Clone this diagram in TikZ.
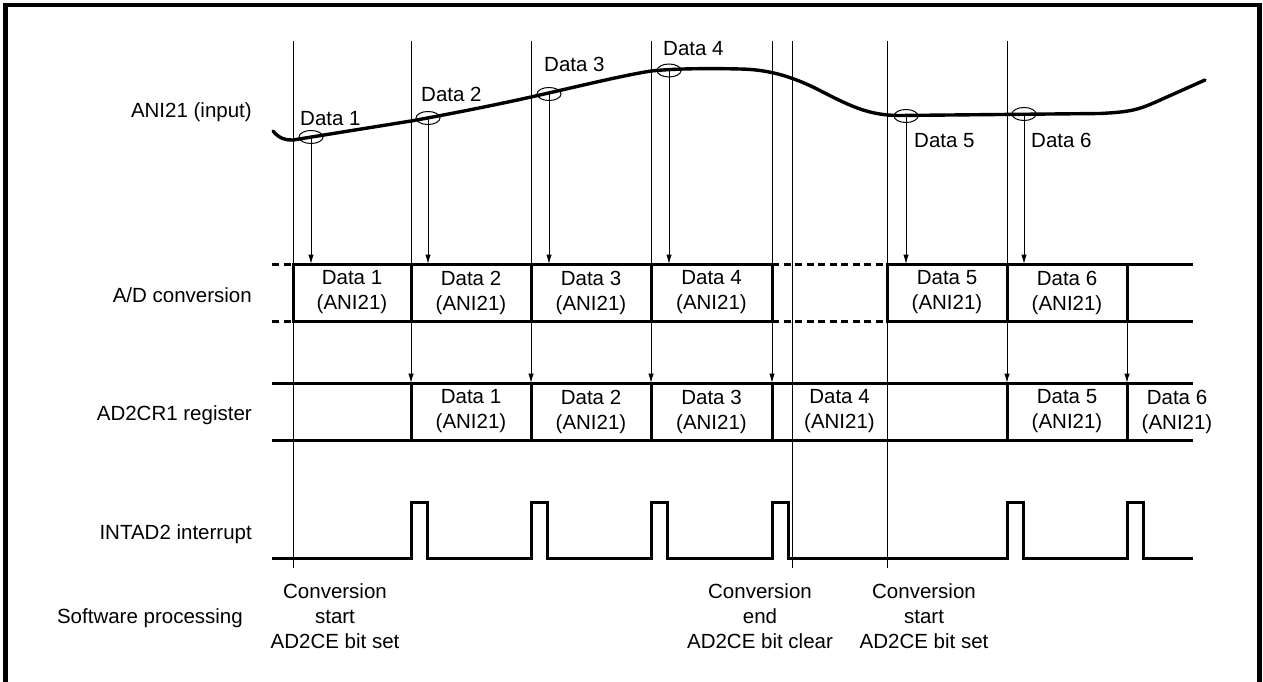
\documentclass[tikz,border=0pt]{standalone}
\usepackage{fontspec}
\setmainfont{Liberation Sans}
\usetikzlibrary{arrows.meta,shapes.geometric}
\begin{document}
\begin{tikzpicture}[x=1pt,y=-1pt,
  lbl/.style={font=\fontsize{20.5}{25}\selectfont, inner sep=0pt},
  cell/.style={lbl, align=center},
  thinline/.style={line width=1pt},
  thickline/.style={line width=3pt},
  arr/.style={line width=1pt,-{Latex[length=9.5pt,width=5.5pt]}},
  samp/.style={draw, ellipse, line width=1pt, minimum width=24pt, minimum height=13pt, inner sep=0pt},
  dsh/.style={line width=3pt, dash pattern=on 7pt off 4.5pt},
]
\useasboundingbox (0,0) rectangle (1263,682);
% frame (open at the bottom)
\draw[line width=4.5pt] (5.25,700) -- (5.25,5.25) -- (1259.5,5.25) -- (1259.5,700);

% input curve
\draw[line width=3.4pt, line cap=round, line join=round]
  (273,131) .. controls (279,138.5) and (286,140.5) .. (293,140)
  .. controls (330,134) and (380,126) .. (411,121)
  .. controls (450,114) and (500,104) .. (531,97)
  .. controls (580,86) and (620,76) .. (651,71)
  .. controls (680,68) and (720,68.5) .. (740,69)
  .. controls (768,69.5) and (790,76) .. (815,88)
  .. controls (850,106) and (868,115.5) .. (900,115.5)
  -- (1100,113.5)
  .. controls (1130,112) and (1138,110) .. (1158,101)
  -- (1205,80);

% sampling ellipses
\node[samp] (e1) at (311,137) {};
\node[samp] (e2) at (428,118) {};
\node[samp] (e3) at (549,94) {};
\node[samp] (e4) at (669,70.5) {};
\node[samp] (e5) at (906,116) {};
\node[samp] (e6) at (1024,114) {};

% row reference coordinates
\coordinate (adtop) at (0,264);
\coordinate (adbot) at (0,321);
\coordinate (rgtop) at (0,383);
\coordinate (rgbot) at (0,440);

% thin vertical time lines
\foreach \x/\n in {293/t1,411/t2,531/t3,651/t4,772/t5,792/t6,887/t7,1007/t8}{
  \coordinate (\n) at (\x,41);
}
\draw[thinline] (t1) -- (293,568);
\draw[thinline] (t6) -- (792,568);
\draw[thinline] (t7) -- (887,568);
\foreach \n in {t2,t3,t4,t5,t8}{
  \draw[arr] (\n) -- (\n |- rgtop);
}
\coordinate (t9) at (1127,321);
\draw[arr] (t9) -- (t9 |- rgtop);

% sample arrows
\foreach \n in {e1,e2,e3,e4,e5,e6}{
  \draw[arr] (\n.center) -- (\n.center |- adtop);
}

% A/D conversion row
\draw[dsh] (272,264) -- (293,264);
\draw[dsh] (272,321) -- (293,321);
\draw[thickline] (293,264) -- (772,264);
\draw[thickline] (293,321) -- (772,321);
\draw[dsh] (772,264) -- (887,264);
\draw[dsh] (772,321) -- (887,321);
\draw[thickline] (887,264) -- (1193,264);
\draw[thickline] (887,321) -- (1193,321);
\foreach \x in {293,411,531,651,772,887,1007,1127}{
  \draw[thickline, line cap=rect] (\x,264) -- (\x,321);
}

% AD2CR1 register row
\draw[thickline] (272,383) -- (1193,383);
\draw[thickline] (272,440) -- (1193,440);
\foreach \x in {411,531,651,772,1007,1127}{
  \draw[thickline] (\x,383) -- (\x,440);
}

% INTAD2 interrupt pulses
\draw[thickline, line join=miter] (272,558)
  foreach \p in {411,531,651,772,1007,1127} { -- (\p,558) -- (\p,502) -- (\p+16,502) -- (\p+16,558) }
  -- (1193,558);

% data labels on the curve
\node[lbl, anchor=base west] (d1) at (300,125) {Data 1};
\node[lbl, anchor=base west] (d2) at (421,102) {Data 2};
\node[lbl, anchor=base west] (d3) at (544,72) {Data 3};
\node[lbl, anchor=base west] (d4) at (663,56) {Data 4};
\node[lbl, anchor=base west] (d5) at (914,147) {Data 5};
\node[lbl, anchor=base west] (d6) at (1031,147) {Data 6};

% A/D cells
\node[cell] (c1) at (352,292.5) {Data 1\\(ANI21)};
\node[cell] (c2) at (471,292.5) {Data 2\\(ANI21)};
\node[cell] (c3) at (591,292.5) {Data 3\\(ANI21)};
\node[cell] (c4) at (711.5,292.5) {Data 4\\(ANI21)};
\node[cell] (c5) at (947,292.5) {Data 5\\(ANI21)};
\node[cell] (c6) at (1067,292.5) {Data 6\\(ANI21)};

% AD2CR1 cells
\node[cell] (r1) at (471,411.5) {Data 1\\(ANI21)};
\node[cell] (r2) at (591,411.5) {Data 2\\(ANI21)};
\node[cell] (r3) at (711.5,411.5) {Data 3\\(ANI21)};
\node[cell] (r4) at (839.5,411.5) {Data 4\\(ANI21)};
\node[cell] (r5) at (1067,411.5) {Data 5\\(ANI21)};
\node[cell] (r6) at (1177,411.5) {Data 6\\(ANI21)};

% row labels
\node[lbl, anchor=base east] (l1) at (252,118) {ANI21 (input)};
\node[lbl, anchor=base east] (l2) at (252,302.5) {A/D conversion};
\node[lbl, anchor=base east] (l3) at (252,420) {AD2CR1 register};
\node[lbl, anchor=base east] (l4) at (252,539) {INTAD2 interrupt};
\node[lbl, anchor=base east] (l5) at (243,623) {Software processing};

% software processing texts
\node[cell, anchor=north] (s1) at (335,583.5) {Conversion\\start\\AD2CE bit set};
\node[cell, anchor=north] (s2) at (760,583.5) {Conversion\\end\\AD2CE bit clear};
\node[cell, anchor=north] (s3) at (924,583.5) {Conversion\\start\\AD2CE bit set};
\end{tikzpicture}
\end{document}
